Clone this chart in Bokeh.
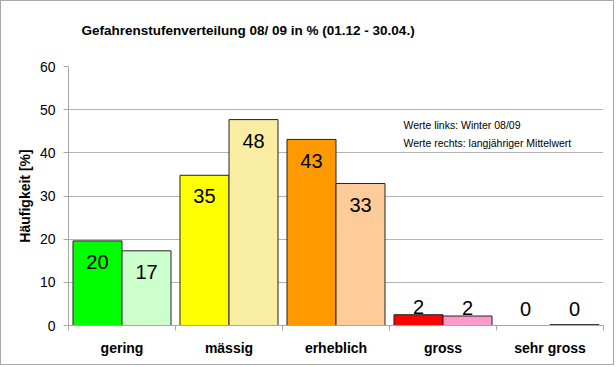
from bokeh.plotting import figure
from bokeh.models import ColumnDataSource, FixedTicker, Label, Title
from bokeh.embed import file_html
from bokeh.resources import INLINE
from bokeh.core.properties import value

categories = ["gering", "mässig", "erheblich", "gross", "sehr gross"]
winter_0809 = [19.6, 34.8, 43.1, 2.5, 0.0]
mittelwert = [17.3, 47.7, 32.9, 2.2, 0.2]
colors_left = ["#00ff00", "#ffff00", "#ff9900", "#ff0000", "#ffffff"]
colors_right = ["#ccffcc", "#f8eda3", "#ffcc99", "#ff99cc", "#ffffff"]
y_ticks = [0, 10, 20, 30, 40, 50, 60]
title_text = "Gefahrenstufenverteilung 08/ 09 in % (01.12 - 30.04.)"
y_label = "Häufigkeit [%]"
note_lines = ["Werte links: Winter 08/09", "Werte rechts: langjähriger Mittelwert"]

FONT = "Liberation Sans"
W, H = 614, 365

p = figure(width=W, height=H, x_range=(0, 5), y_range=(0, 60), title=None,
           output_backend="svg", toolbar_location=None,
           min_border_left=67, min_border_right=12, min_border_top=65, min_border_bottom=41)
p.styles = {"border": "1px solid #a8a8a8"}
p.outline_line_color = None
p.background_fill_color = "white"
p.border_fill_color = "white"

def label_pos(v):
    return v - 4.9 if v >= 10 else max(v + 1.8, 3.9)

n = len(categories)
src = ColumnDataSource(dict(
    xl=[i + 0.271 for i in range(n)],
    xr=[i + 0.729 for i in range(n)],
    left=winter_0809, right=mittelwert,
    cl=colors_left, cr=colors_right,
    al=[1.0 if v > 0 else 0.0 for v in winter_0809],
    ar=[1.0 if v > 0 else 0.0 for v in mittelwert],
    tl=[str(int(round(v))) for v in winter_0809],
    tr=[str(int(round(v))) for v in mittelwert],
    yl=[label_pos(v) for v in winter_0809],
    yr=[label_pos(v) for v in mittelwert],
))

p.vbar(x="xl", top="left", bottom=0, width=0.458, source=src, fill_color="cl",
       line_color="#222222", line_alpha="al", line_width=1)
p.vbar(x="xr", top="right", bottom=0, width=0.458, source=src, fill_color="cr",
       line_color="#222222", line_alpha="ar", line_width=1)

for xcol, tcol, ycol in (("xl", "tl", "yl"), ("xr", "tr", "yr")):
    p.text(x=xcol, y=ycol, text=tcol, source=src, text_align="center",
           text_baseline="middle", text_font=value(FONT), text_font_size="20px",
           text_color="black")

# grid
p.xgrid.visible = False
p.ygrid.ticker = FixedTicker(ticks=y_ticks)
p.ygrid.grid_line_color = "#b4b4b4"
p.ygrid.grid_line_width = 1

# y axis
ya = p.yaxis[0]
ya.ticker = FixedTicker(ticks=y_ticks)
ya.axis_line_color = "#a8a8a8"
ya.major_tick_line_color = "#a8a8a8"
ya.major_tick_out = 5
ya.major_tick_in = 0
ya.minor_tick_line_color = None
ya.major_label_text_font = FONT
ya.major_label_text_font_size = "14px"
ya.major_label_text_color = "black"
ya.major_label_standoff = 8
ya.axis_label = y_label
ya.axis_label_text_font = FONT
ya.axis_label_text_font_size = "14px"
ya.axis_label_text_font_style = "bold"
ya.axis_label_text_color = "black"
ya.axis_label_standoff = 4

# x axis
xa = p.xaxis[0]
xa.ticker = FixedTicker(ticks=[i + 0.5 for i in range(n)], minor_ticks=list(range(n + 1)))
xa.major_label_overrides = {i + 0.5: c for i, c in enumerate(categories)}
xa.axis_line_color = "#a8a8a8"
xa.major_tick_line_color = None
xa.minor_tick_line_color = "#a8a8a8"
xa.minor_tick_out = 5
xa.minor_tick_in = 0
xa.major_label_text_font = FONT
xa.major_label_text_font_size = "14px"
xa.major_label_text_font_style = "bold"
xa.major_label_text_color = "black"
xa.major_label_standoff = 8

# title: an empty spacer next to the frame, then the real title above it
p.add_layout(Title(text=" ", text_font=FONT, text_font_size="13.5px", standoff=12), "above")
p.add_layout(Title(text=title_text, text_font=FONT, text_font_size="13.5px",
                   text_font_style="bold", align="left", offset=13, standoff=0,
                   text_color="black"), "above")

# note
for k, line in enumerate(note_lines):
    p.add_layout(Label(x=3.13, y=[46.4, 42.2][k], text=line, text_font=FONT,
                       text_font_size="10.5px", text_baseline="middle", text_color="black"))

open("out.html", "w").write(file_html(p, INLINE))
